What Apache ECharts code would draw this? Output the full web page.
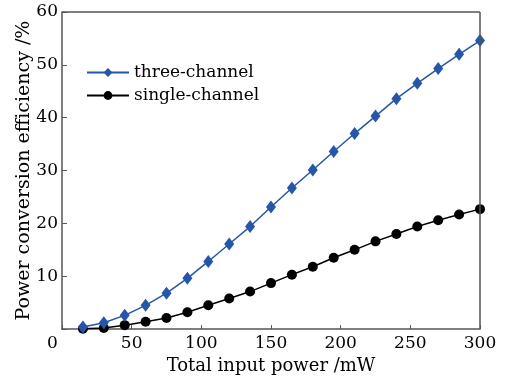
<!DOCTYPE html>
<html>
<head>
<meta charset="utf-8">
<script src="https://cdn.jsdelivr.net/npm/echarts@6/dist/echarts.min.js"></script>
<style>
html,body{margin:0;padding:0;background:#fff;}
#chart{width:505px;height:380px;}
</style>
</head>
<body>
<div id="chart"></div>
<script>
var inputPower = [15, 30, 45, 60, 75, 90, 105, 120, 135, 150, 165, 180, 195, 210, 225, 240, 255, 270, 285, 300];
var threeChannel = [0.4, 1.2, 2.6, 4.5, 6.8, 9.6, 12.8, 16.1, 19.4, 23.1, 26.7, 30.1, 33.6, 37.0, 40.3, 43.6, 46.5, 49.3, 52.0, 54.6];
var singleChannel = [0.05, 0.2, 0.75, 1.4, 2.1, 3.2, 4.5, 5.8, 7.1, 8.7, 10.3, 11.8, 13.5, 15.0, 16.6, 18.0, 19.4, 20.6, 21.7, 22.7];

var font = 'DejaVu Serif';
var axisColor = '#555';
var textColor = '#000';

function pairs(xs, ys) {
  return xs.map(function (x, i) { return [x, ys[i]]; });
}

var myChart = echarts.init(document.getElementById('chart'));
var option = {
  animation: false,
  textStyle: {fontFamily: font},
  grid: {left: 62, right: 25, top: 12, bottom: 46},
  legend: {
    left: 81,
    top: 59,
    orient: 'vertical',
    itemWidth: 42,
    itemHeight: 11,
    itemGap: 6,
    textStyle: {fontFamily: font, fontSize: 17, color: textColor},
    data: ['three-channel', 'single-channel']
  },
  xAxis: {
    type: 'value',
    min: 0, max: 300, interval: 50,
    name: 'Total input power /mW',
    nameLocation: 'middle',
    nameGap: 25,
    nameTextStyle: {fontFamily: font, fontSize: 18, color: textColor},
    axisLine: {lineStyle: {color: axisColor, width: 1.5}},
    axisTick: {inside: true, length: 4, lineStyle: {color: axisColor}},
    splitLine: {show: false},
    axisLabel: {
      color: textColor, fontSize: 17, fontFamily: font, margin: 6,
      formatter: function (v) { return v === 0 ? '{z|0}' : v; },
      rich: {z: {fontSize: 17, fontFamily: font, color: textColor, padding: [0, 19, 0, 0]}}
    }
  },
  yAxis: {
    type: 'value',
    min: 0, max: 60, interval: 10,
    name: 'Power conversion efficiency /%',
    nameLocation: 'middle',
    nameGap: 28,
    nameMoveOverlap: false,
    nameTextStyle: {fontFamily: font, fontSize: 19, color: textColor},
    axisLine: {show: true, lineStyle: {color: axisColor, width: 1.5}},
    axisTick: {show: true, inside: true, length: 5, lineStyle: {color: axisColor}},
    splitLine: {show: false},
    axisLabel: {
      color: textColor, fontSize: 17, fontFamily: font, margin: 4,
      formatter: function (v) { return v === 0 ? '' : v; }
    }
  },
  series: [
    {
      name: 'three-channel',
      type: 'line',
      data: pairs(inputPower, threeChannel),
      symbol: 'diamond',
      symbolSize: [10, 13],
      color: '#2656a8',
      lineStyle: {width: 1.5, color: '#2656a8'},
      itemStyle: {color: '#2656a8'},
      z: 3
    },
    {
      name: 'single-channel',
      type: 'line',
      data: pairs(inputPower, singleChannel),
      symbol: 'circle',
      symbolSize: 10,
      color: '#000',
      lineStyle: {width: 1.5, color: '#000'},
      itemStyle: {color: '#000'},
      z: 2
    },
    {
      // box frame: top and right borders
      type: 'line',
      data: [],
      markLine: {
        silent: true,
        symbol: 'none',
        label: {show: false},
        lineStyle: {color: axisColor, width: 1.5, type: 'solid'},
        data: [{yAxis: 60}, {xAxis: 300}]
      }
    }
  ]
};
option && myChart.setOption(option);
</script>
</body>
</html>
